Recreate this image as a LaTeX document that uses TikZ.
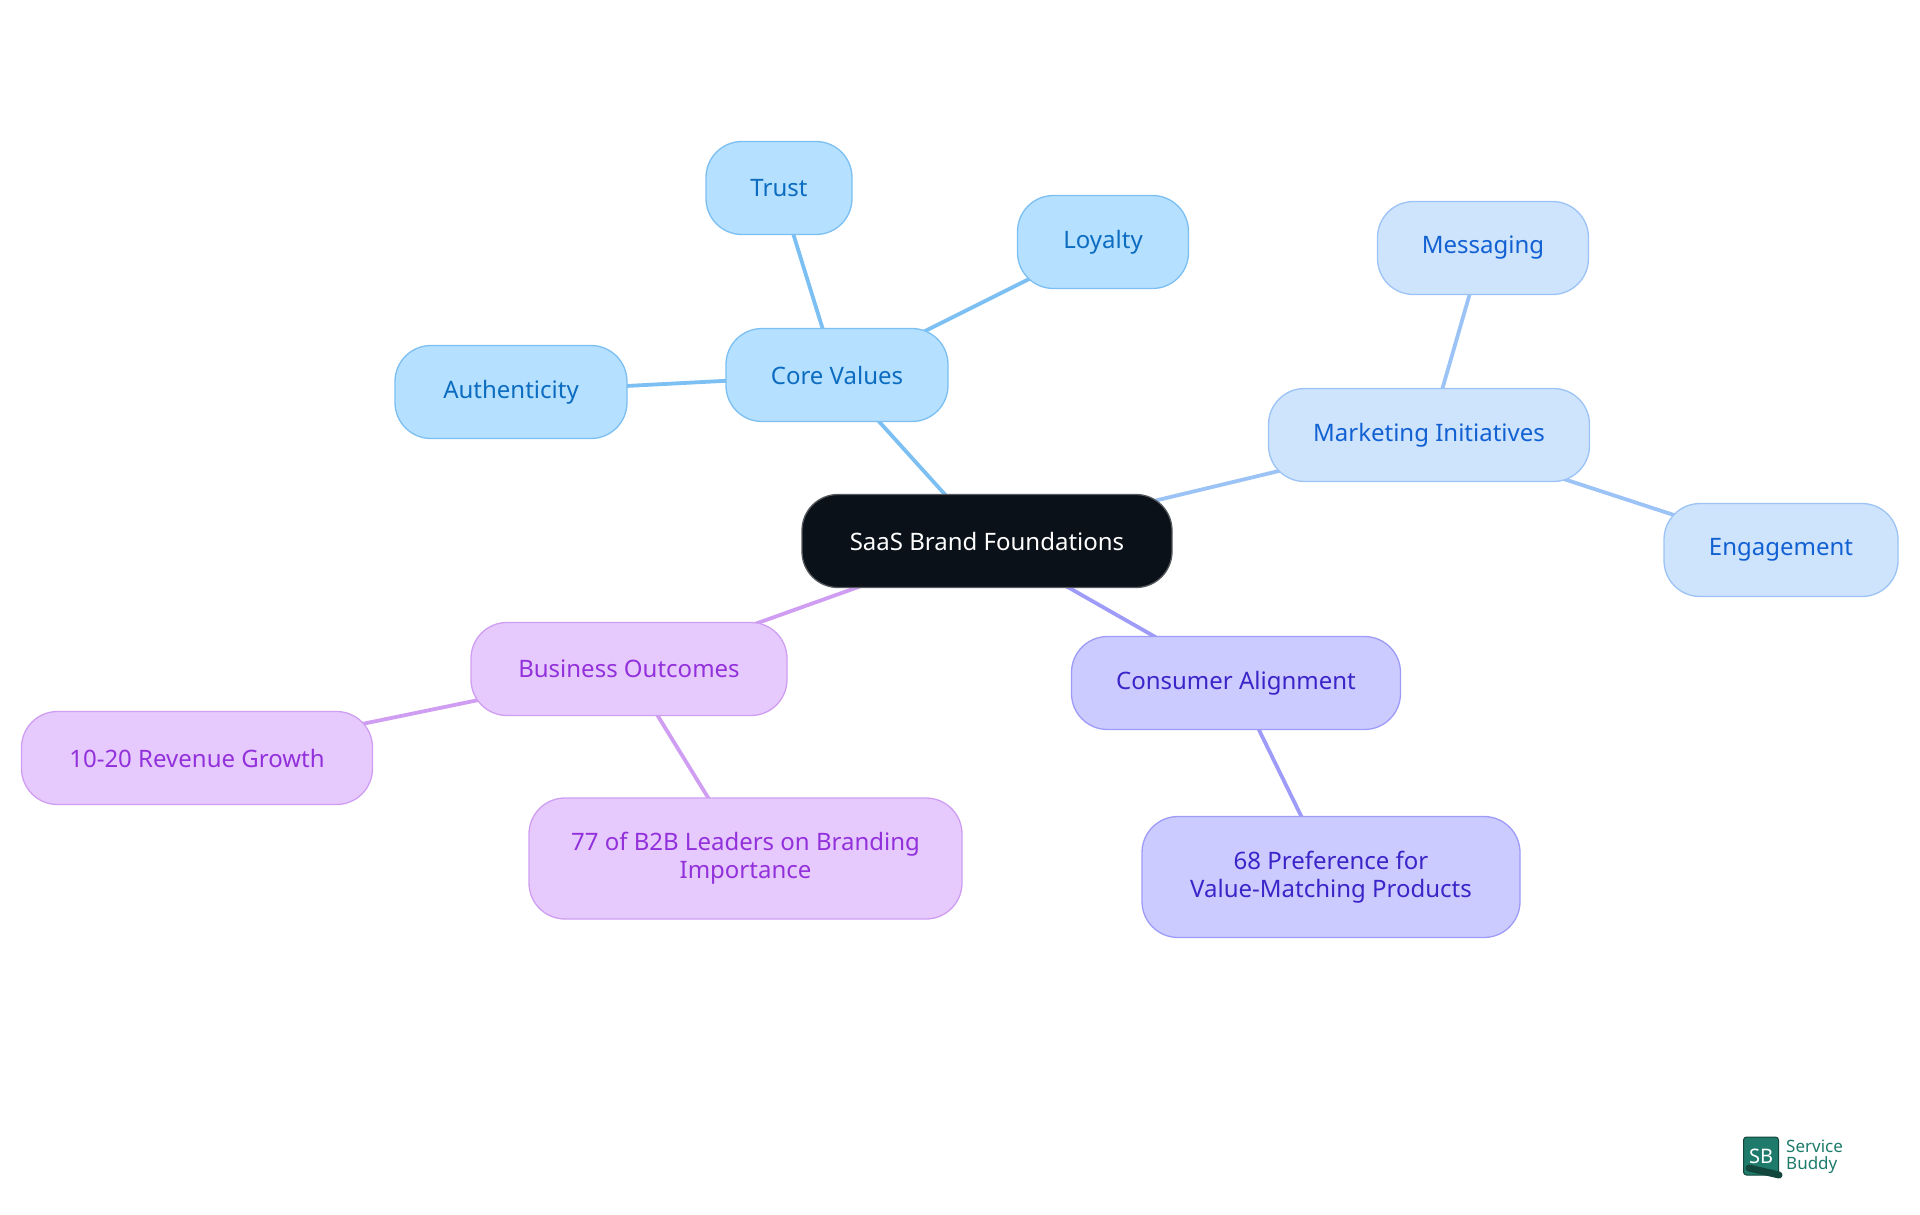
\documentclass[tikz,border=0pt]{standalone}
\usepackage{fontspec}
\setmainfont{Noto Sans}
\usetikzlibrary{backgrounds}
\definecolor{rootfill}{RGB}{11,17,25}
\definecolor{rootline}{RGB}{85,88,92}
\definecolor{corefill}{RGB}{181,224,255}
\definecolor{coreline}{RGB}{124,191,242}
\definecolor{coretext}{RGB}{12,108,192}
\definecolor{markfill}{RGB}{206,227,252}
\definecolor{markline}{RGB}{156,195,245}
\definecolor{marktext}{RGB}{18,97,211}
\definecolor{consfill}{RGB}{203,203,255}
\definecolor{consline}{RGB}{158,156,248}
\definecolor{constext}{RGB}{58,37,200}
\definecolor{busifill}{RGB}{231,202,253}
\definecolor{busiline}{RGB}{207,158,242}
\definecolor{busitext}{RGB}{146,49,219}
\definecolor{logogreen}{RGB}{30,123,107}
\definecolor{logodark}{RGB}{18,70,60}
\tikzset{
  treenode/.style = {shape=rectangle, rounded corners=36pt, draw, line width=1.3pt,
                     align=center, inner sep=0pt,
                     font=\fontsize{24}{28}\selectfont},
  rootnode/.style = {treenode, fill=rootfill, draw=rootline, text=white},
  corenode/.style = {treenode, fill=corefill, draw=coreline, text=coretext},
  marknode/.style = {treenode, fill=markfill, draw=markline, text=marktext},
  consnode/.style = {treenode, fill=consfill, draw=consline, text=constext},
  businode/.style = {treenode, fill=busifill, draw=busiline, text=busitext},
  coreedge/.style = {draw=coreline, line width=3.8pt},
  markedge/.style = {draw=markline, line width=3.8pt},
  consedge/.style = {draw=consline, line width=3.8pt},
  busiedge/.style = {draw=busiline, line width=3.8pt},
}

\begin{document}
\begin{tikzpicture}
  [
    x = 1pt,
    y = -1pt,
  ]
  \useasboundingbox (0,0) rectangle (1920,1215);

  \node [rootnode, minimum width=370pt, minimum height=93pt] (root) at (987,541) {SaaS Brand Foundations};

  \node [corenode, minimum width=222pt, minimum height=93pt] (values) at (837,375) {Core Values};
  \node [corenode, minimum width=146pt, minimum height=93pt] (trust) at (779,188) {Trust};
  \node [corenode, minimum width=171pt, minimum height=93pt] (loyalty) at (1103,242) {Loyalty};
  \node [corenode, minimum width=232pt, minimum height=93pt] (authenticity) at (511,392) {Authenticity};

  \node [marknode, minimum width=321pt, minimum height=93pt] (marketing) at (1429,435) {Marketing Initiatives};
  \node [marknode, minimum width=211pt, minimum height=93pt] (messaging) at (1483,248) {Messaging};
  \node [marknode, minimum width=234pt, minimum height=93pt] (engagement) at (1781,550) {Engagement};

  \node [consnode, minimum width=329pt, minimum height=93pt] (consumer) at (1236,683) {Consumer Alignment};
  \node [consnode, minimum width=378pt, minimum height=121pt] (preference) at (1331,877) {68 Preference for\\Value-Matching Products};

  \node [businode, minimum width=316pt, minimum height=93pt] (business) at (629,669) {Business Outcomes};
  \node [businode, minimum width=351pt, minimum height=93pt] (revenue) at (197,758) {10-20 Revenue Growth};
  \node [businode, minimum width=433pt, minimum height=121pt] (leaders) at (745.5,858.5) {77 of B2B Leaders on Branding\\Importance};

  % edges run centre to centre, behind the boxes
  \begin{scope}[on background layer]
    \draw [coreedge] (root.center) -- (values.center);
    \draw [coreedge] (values.center) -- (trust.center);
    \draw [coreedge] (values.center) -- (loyalty.center);
    \draw [coreedge] (values.center) -- (authenticity.center);
    \draw [markedge] (root.center) -- (marketing.center);
    \draw [markedge] (marketing.center) -- (messaging.center);
    \draw [markedge] (marketing.center) -- (engagement.center);
    \draw [consedge] (root.center) -- (consumer.center);
    \draw [consedge] (consumer.center) -- (preference.center);
    \draw [busiedge] (root.center) -- (business.center);
    \draw [busiedge] (business.center) -- (revenue.center);
    \draw [busiedge] (business.center) -- (leaders.center);
  \end{scope}

  % logo
  \node [shape=rectangle, rounded corners=3pt, fill=logogreen, draw=logodark, line width=1pt,
         minimum width=35pt, minimum height=38pt, inner sep=0pt, text=white,
         font=\fontsize{20}{20}\selectfont\bfseries] (logomark) at (1761,1156) {SB};
  \draw [logodark, line width=7pt, line cap=round] (1749,1168) -- (1779,1175);
  \node [anchor=west, align=left, inner sep=0pt, text=logogreen,
         font=\fontsize{17}{17}\selectfont\bfseries] (logotext) at (1786,1157) {Service\\Buddy};
\end{tikzpicture}
\end{document}
